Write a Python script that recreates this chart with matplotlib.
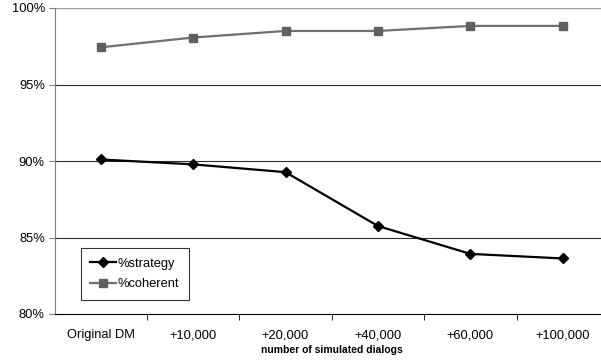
import matplotlib
matplotlib.use('Agg')
import matplotlib.pyplot as plt
import numpy as np

plt.rcParams['font.family'] = ['Liberation Sans', 'DejaVu Sans']

categories = ['Original DM', '+10,000', '+20,000', '+40,000', '+60,000', '+100,000']
strategy = [90.1, 89.78, 89.27, 85.75, 83.93, 83.63]
coherent = [97.43, 98.07, 98.5, 98.5, 98.83, 98.83]
y_ticks = [80, 85, 90, 95, 100]

fig = plt.figure(figsize=(6.01, 3.63), dpi=100)
ax = fig.add_axes([54.5 / 601, 49 / 363, 554.5 / 601, 306 / 363])

x = np.arange(len(categories))
ax.plot(x, strategy, color='black', lw=1.6, marker='D', ms=5, mfc='black', mec='black',
        label='%strategy', zorder=3)
ax.plot(x, coherent, color='#707070', lw=1.6, marker='s', ms=5.5, mfc='#606060', mec='#606060',
        label='%coherent', zorder=3)

ax.set_xlim(-0.5, 5.5)
ax.set_ylim(80, 100)
ax.set_yticks(y_ticks)
ax.set_yticklabels([f'{v}%' for v in y_ticks], fontsize=9.3)
for v in y_ticks[1:-1]:
    ax.axhline(v, color='#303030', lw=0.8, zorder=1)
ax.axhline(100, color='#a0a0a0', lw=1, zorder=1)

ax.set_xticks(x)
ax.set_xticklabels(categories, fontsize=9.3)
ax.set_xticks(np.arange(0.5, 5.5, 1), minor=True)
ax.tick_params(axis='x', which='major', length=0, pad=11)
ax.tick_params(axis='x', which='minor', length=4, direction='out', color='black')
ax.tick_params(axis='y', length=4, direction='out', color='#808080', pad=3)
ax.set_xlabel('number of simulated dialogs', fontsize=7.5, fontweight='bold', labelpad=3)

for side in ['top', 'right']:
    ax.spines[side].set_visible(False)
ax.spines['left'].set_color('#808080')
ax.spines['bottom'].set_color('black')

leg = ax.legend(loc='lower left', bbox_to_anchor=(26 / 554.5, 14 / 306), fontsize=9.3,
                frameon=True, fancybox=False, edgecolor='black', handlelength=2.0,
                handletextpad=0.1, labelspacing=0.65, borderpad=0.75, borderaxespad=0)
leg.get_frame().set_linewidth(0.8)

fig.savefig('out.png', dpi=100)
